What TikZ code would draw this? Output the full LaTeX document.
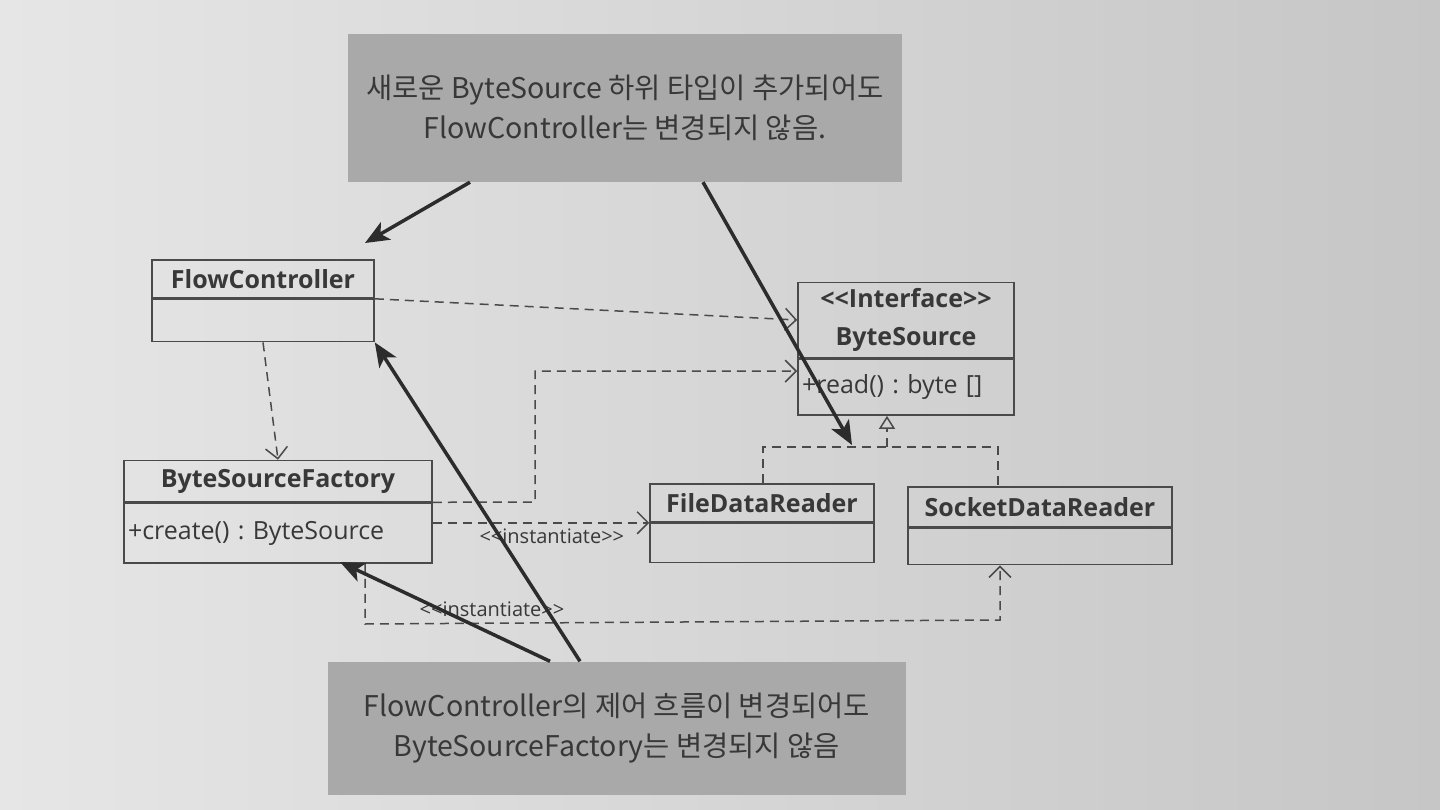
\documentclass[tikz,border=0pt]{standalone}
\usepackage{fontspec}
\setmainfont{Open Sans}[Ligatures=TeXOff]
\newfontfamily\kr{Noto Sans CJK KR}[Ligatures=TeXOff]
\usetikzlibrary{arrows.meta,positioning}
\frenchspacing

\definecolor{bgl}{HTML}{E6E6E6}
\definecolor{bgr}{HTML}{C6C6C6}
\definecolor{line}{HTML}{4A4A4A}
\definecolor{ink}{HTML}{383838}
\definecolor{note}{HTML}{A9A9A9}
\definecolor{pen}{HTML}{2C2C2C}

\tikzset{
  cls/.style={draw=line, line width=1.6pt, inner sep=0pt, text=ink,
    font=\fontsize{25pt}{38pt}\selectfont\bfseries},
  body/.style={draw=line, line width=1.6pt, inner xsep=4pt, inner ysep=0pt, text=ink,
    align=left, font=\fontsize{25pt}{30pt}\selectfont},
  dep/.style={draw=line, line width=1.5pt, dash pattern=on 9pt off 6pt,
    -{Straight Barb[length=11pt,width=22pt,line width=1.5pt]}},
  dashline/.style={draw=line, line width=1.5pt, dash pattern=on 9pt off 6pt},
  stereo/.style={text=ink, font=\fontsize{20pt}{22pt}\selectfont},
  callout/.style={fill=note, inner sep=0pt, text=ink, align=center,
    font=\kr\fontsize{28.5pt}{40pt}\selectfont},
  pointer/.style={draw=pen, line width=3.5pt, -{Stealth[length=24pt,width=20pt,inset=6pt]}}
}

\begin{document}
\begin{tikzpicture}[x=1pt,y=-1pt]
  \shade[left color=bgl, right color=bgr] (0,0) rectangle (1440,810);

  \node[callout, minimum width=554pt, minimum height=148pt] (top) at (625,108)
    {새로운 ByteSource 하위 타입이 추가되어도\\FlowController는 변경되지 않음.};
  \node[callout, minimum width=578pt, minimum height=133pt] (bot) at (617,728)
    {FlowController의 제어 흐름이 변경되어도\\ByteSourceFactory는 변경되지 않음};

  % classes
  \node[cls, minimum width=222pt, minimum height=38pt] (fc) at (263,279) {FlowController};
  \node[body, below=0pt of fc, text width=214pt, minimum height=42pt] (fcb) {};

  \node[cls, minimum width=308pt, minimum height=41pt] (bsf) at (278,481) {ByteSourceFactory};
  \node[body, below=0pt of bsf, text width=300pt, minimum height=60pt] (bsfb) {+create() : ByteSource};

  \node[cls, minimum width=216pt, minimum height=75pt, align=center] (bs) at (906,320)
    {<<Interface>>\\ByteSource};
  \node[body, below=0pt of bs, text width=208pt, minimum height=56pt] (bsb) {+read() : byte []};

  \node[cls, minimum width=224pt, minimum height=38pt] (fdr) at (762,503) {FileDataReader};
  \node[body, below=0pt of fdr, text width=216pt, minimum height=39pt] (fdrb) {};

  \node[cls, minimum width=264pt, minimum height=40pt] (sdr) at (1040,507) {SocketDataReader};
  \node[body, below=0pt of sdr, text width=256pt, minimum height=36pt] (sdrb) {};

  \coordinate (k1) at (535,502);
  \coordinate (k2) at (365,624);
  \coordinate (k3) at (1000,620);
  \coordinate (r1) at (763,447);
  \coordinate (r2) at (998,447);
  \coordinate (t) at (887,447);

  % dependencies
  \draw[dep] (fcb.north east) -- (bs.west);
  \draw[dep] (fcb.south) -- (bsf.north);
  \draw[dep] (bsf.south east) -- (k1) |- ([yshift=16pt]bsb.west);
  \draw[dep] (fdr.south west -| bsfb.east) -- node[stereo, below=2pt, pos=0.55] {<<instantiate>>} (fdr.south west);
  \draw[dep] (bsfb.south -| k2) -- (k2) -- node[stereo, above=2pt, pos=0.2] {<<instantiate>>} (k3) -- (sdrb.south -| k3);

  % realization
  \draw[dashline] (fdr.north -| r1) -- (r1) -- (r2) -- (sdr.north -| r2);
  \draw[dashline, -{Triangle[open,length=13pt,width=16pt,line width=1.5pt]}] (t) -- (bsb.south -| t);

  % notes
  \coordinate (a1) at (365,243);
  \coordinate (a2) at (852,445);
  \coordinate (a4) at (340,562);
  \draw[pointer] ([xshift=-155pt]top.south) -- (a1);
  \draw[pointer] ([xshift=78pt]top.south) -- (a2);
  \draw[pointer] ([xshift=-37pt]bot.north) -- (fcb.south east);
  \draw[pointer] ([xshift=-67pt]bot.north) -- (a4);
\end{tikzpicture}
\end{document}
